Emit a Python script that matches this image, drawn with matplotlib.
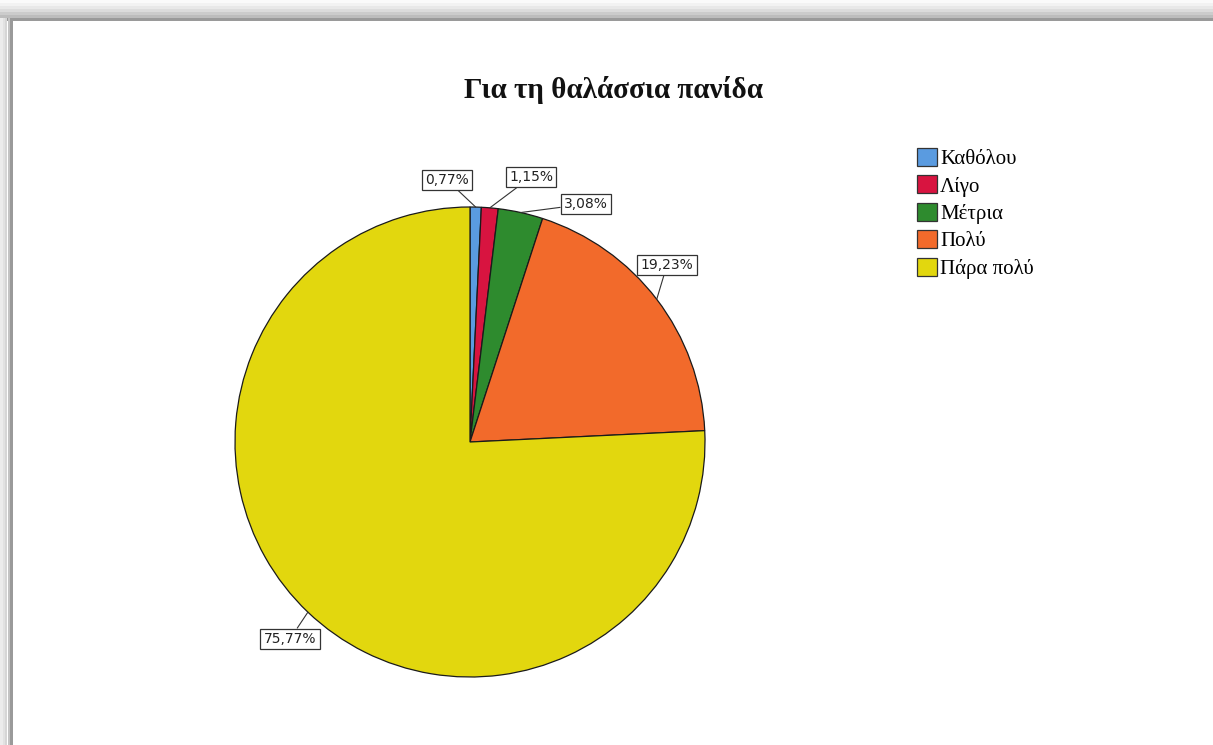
import numpy as np
import matplotlib
matplotlib.use('Agg')
import matplotlib.pyplot as plt
from matplotlib.patches import Rectangle

# data
categories = ['Καθόλου', 'Λίγο', 'Μέτρια', 'Πολύ', 'Πάρα πολύ']
values = [0.77, 1.15, 3.08, 19.23, 75.77]
labels = ['0,77%', '1,15%', '3,08%', '19,23%', '75,77%']
colors = ['#5a9be0', '#d81440', '#2e8b2e', '#f26a2b', '#e2d70e']

W, H = 1213, 745
CX, CY, R = 470, H - 442, 235
# label box centres (pixels from top-left)
label_pos = [(447, 180), (531, 177), (586, 204), (667, 265), (290, 639)]

fig = plt.figure(figsize=(W / 100, H / 100), dpi=100)
fig.patch.set_facecolor('white')

# window shadow frame (top and left)
top_grays = ['#fafafa', '#f2f2f2', '#e8e8e8', '#dcdcdc', '#cccccc', '#bdbdbd', '#9a9a9a']
for i, g in enumerate(top_grays):
    fig.patches.append(Rectangle((0, (H - 3 * (i + 1)) / H), 1, 3 / H,
                                 transform=fig.transFigure, facecolor=g,
                                 edgecolor='none', zorder=0))
left_grays = ['#ececec', '#e2e2e2', '#d6d6d6', '#c4c4c4', '#9a9a9a']
for i, g in enumerate(left_grays):
    fig.patches.append(Rectangle((i * 2.5 / W, 0), 2.5 / W, (H - 18) / H,
                                 transform=fig.transFigure, facecolor=g,
                                 edgecolor='none', zorder=0))

ax = fig.add_axes([0, 0, 1, 1])
wedges, _ = ax.pie(values, colors=colors, startangle=90, counterclock=False,
                   center=(CX, CY), radius=R, frame=True,
                   wedgeprops=dict(edgecolor='#1a1a1a', linewidth=0.9))
ax.set_xlim(0, W)
ax.set_ylim(0, H)
ax.set_aspect('equal')
ax.axis('off')

for w, lab, (lx, ly) in zip(wedges, labels, label_pos):
    mid = np.deg2rad((w.theta1 + w.theta2) / 2)
    px, py = CX + R * np.cos(mid), CY + R * np.sin(mid)
    ax.annotate(lab, xy=(px, py), xytext=(lx, H - ly), ha='center', va='center',
                fontsize=10, family='DejaVu Sans', color='#222222',
                bbox=dict(boxstyle='square,pad=0.25', facecolor='white',
                          edgecolor='#333333', linewidth=0.9),
                arrowprops=dict(arrowstyle='-', color='#333333', linewidth=0.8,
                                shrinkA=0, shrinkB=0))

fig.text(613 / W, 1 - 90 / H, 'Για τη θαλάσσια πανίδα', ha='center', va='center',
         fontsize=21, fontweight='bold', family='Liberation Serif', color='#111111')

leg = fig.legend(wedges, categories, loc='upper left',
                 bbox_to_anchor=(917 / W, 1 - 148 / H), frameon=False,
                 prop={'family': 'Liberation Serif', 'size': 15},
                 handlelength=0.95, handleheight=0.95, handletextpad=0.15,
                 labelspacing=0.3, borderaxespad=0, borderpad=0)
for h in leg.legend_handles:
    h.set_edgecolor('#333333')
    h.set_linewidth(0.9)

fig.savefig('out.png', dpi=100)
